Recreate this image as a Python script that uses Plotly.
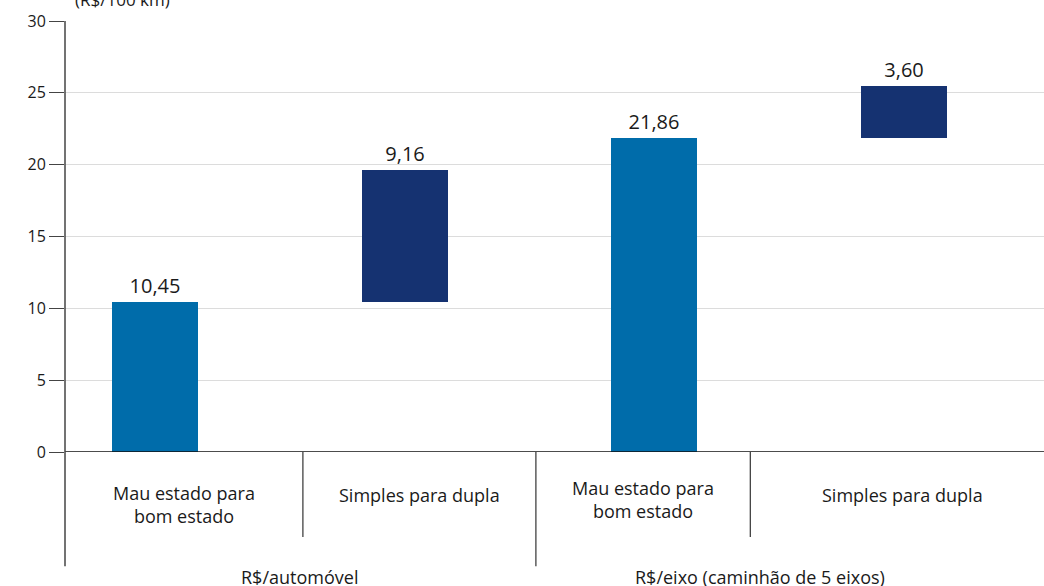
import plotly.graph_objects as go

# dados
grupos = ["R$/automóvel", "R$/eixo (caminhão de 5 eixos)"]
categorias = ["Mau estado para<br>bom estado", "Simples para dupla",
              "Mau estado para<br>bom estado", "Simples para dupla"]
valores = [10.45, 9.16, 21.86, 3.60]
bases = [0, 10.45, 0, 21.86]
cores = ["#006CAA", "#153271", "#006CAA", "#153271"]

FONT = "Open Sans"
TXT = "#1a1a1a"

x = list(range(len(valores)))
rotulos = [f"{v:.2f}".replace(".", ",") for v in valores]

fig = go.Figure(go.Bar(
    x=x, y=valores, base=bases,
    marker=dict(color=cores, line=dict(width=0)),
    width=0.345,
    text=rotulos, textposition="outside", cliponaxis=False,
    textfont=dict(family=FONT, size=20, color=TXT),
    hoverinfo="skip",
))

fig.update_layout(
    width=1044, height=586,
    margin=dict(l=65, r=0, t=21, b=134),
    plot_bgcolor="white", paper_bgcolor="white",
    showlegend=False,
    font=dict(family=FONT, size=16, color=TXT),
    bargap=0,
)
fig.update_xaxes(range=[-0.36, 3.56], showticklabels=False, showgrid=False,
                 zeroline=False, showline=False, ticks="")
fig.update_yaxes(range=[0, 30], tickvals=[0, 5, 10, 15, 20, 25, 30],
                 showgrid=True, gridcolor="#dcdcdc", gridwidth=1,
                 zeroline=False, showline=False,
                 ticks="outside", ticklen=15, tickcolor="#444444", tickwidth=1,
                 tickfont=dict(family=FONT, size=16, color=TXT))

# linha do zero e eixo y estendido
fig.add_shape(type="line", xref="paper", yref="y", x0=0, x1=1, y0=0, y1=0,
              line=dict(color="#111111", width=1.5))
fig.add_shape(type="line", xref="paper", yref="paper", x0=0, x1=0, y0=1, y1=-0.265,
              line=dict(color="#444444", width=1.5))

# separadores das categorias
for xp, yb in [(0.243, -0.197), (0.481, -0.265), (0.700, -0.197)]:
    fig.add_shape(type="line", xref="paper", yref="paper", x0=xp, x1=xp, y0=0, y1=yb,
                  line=dict(color="#333333", width=1.2))

# rótulos das categorias
for xp, yp, txt in zip([0.122, 0.362, 0.590, 0.855], [-0.062, -0.068, -0.050, -0.068], categorias):
    fig.add_annotation(xref="paper", yref="paper", x=xp, y=yp, text=txt,
                       showarrow=False, yanchor="top", xanchor="center",
                       font=dict(family=FONT, size=18, color=TXT))

# rótulos dos grupos
for xp, txt in zip([0.240, 0.710], grupos):
    fig.add_annotation(xref="paper", yref="paper", x=xp, y=-0.29, text=txt,
                       showarrow=False, yanchor="middle", xanchor="center",
                       font=dict(family=FONT, size=18, color=TXT))

# unidade (cortada no topo)
fig.add_annotation(xref="paper", yref="paper", x=0.059, y=1, yshift=8,
                   text="(R$/100 km)", showarrow=False, yanchor="bottom",
                   xanchor="center", font=dict(family=FONT, size=17, color=TXT))

fig.write_html("out.html", config={"displayModeBar": False},
               post_script="document.body.style.margin='0';")
